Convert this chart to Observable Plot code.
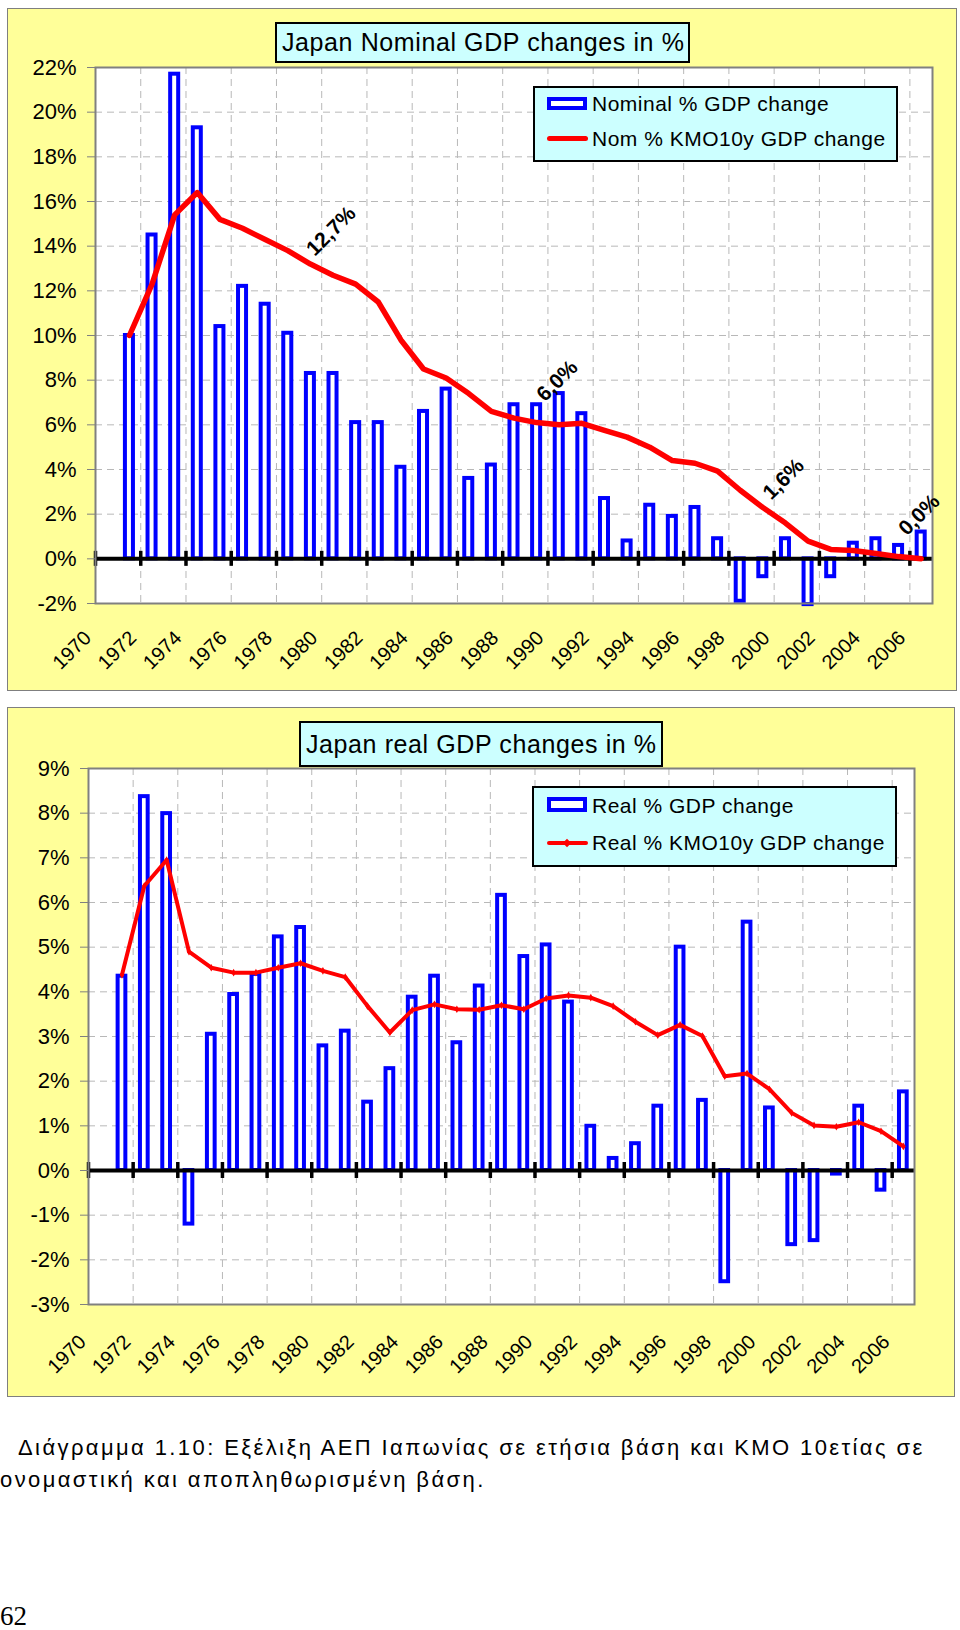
<!DOCTYPE html>
<html>
<head>
<meta charset="utf-8">
<script src="https://cdn.jsdelivr.net/npm/d3@7"></script>
<script src="https://cdn.jsdelivr.net/npm/@observablehq/plot@0.6"></script>
<style>
  body { margin: 0; background: #fff; font-family: "Liberation Sans", Arial, Helvetica, sans-serif; }
  #page { position: relative; width: 960px; height: 1630px; overflow: hidden; background: #fff; }
  .panel { position: absolute; background: #ffff99; border: 1.5px solid #7f7f7f; box-sizing: border-box; }
  .chart { position: absolute; }
  .chart svg { display: block; overflow: visible; }
  .titlebox { position: absolute; background: #ccffff; border: 2px solid #000; box-sizing: border-box;
              font-size: 25px; letter-spacing: 0.6px; display: flex; align-items: center; padding-left: 5px; white-space: nowrap; }
  .legend { position: absolute; background: #ccffff; border: 2px solid #000; box-sizing: border-box; }
  .swrect { position: absolute; box-sizing: border-box; border: 4px solid #0000ff; background: #fff; }
  .swline { position: absolute; background: #ff0000; border-radius: 3px; }
  .swdot { position: absolute; width: 6px; height: 6px; background: #ff0000; transform: rotate(45deg); }
  .legtext { position: absolute; font-size: 21px; letter-spacing: 0.5px; line-height: 24px; white-space: nowrap; }
  .caption { position: absolute; left: 0; top: 1432px; font-size: 22px; line-height: 32px; letter-spacing: 2.4px; white-space: nowrap; }
  .pagenum { position: absolute; left: 0; top: 1603px; font-family: "Liberation Serif", "Times New Roman", serif; font-size: 27px; line-height: 27px; }
</style>
</head>
<body>
<div id="page">
  <div class="panel" style="left:7px;top:8px;width:950px;height:683px;"></div>
  <div class="panel" style="left:7px;top:707px;width:948px;height:690px;"></div>
  <div id="chart1" class="chart" style="left:7px;top:8px;"></div>
  <div id="chart2" class="chart" style="left:7px;top:707px;"></div>

  <div class="titlebox" style="left:275px;top:22px;width:415px;height:41px;">Japan Nominal GDP changes in %</div>
  <div class="legend" style="left:533px;top:86px;width:365px;height:76px;"></div>
  <div class="swrect" style="left:547px;top:97px;width:40px;height:13px;"></div>
  <div class="legtext" style="left:592px;top:92px;">Nominal % GDP change</div>
  <div class="swline" style="left:547px;top:135.5px;width:41px;height:5px;"></div>
  <div class="legtext" style="left:592px;top:127px;">Nom % KMO10y GDP change</div>

  <div class="titlebox" style="left:299px;top:721px;width:364px;height:46px;">Japan real GDP changes in %</div>
  <div class="legend" style="left:532px;top:786px;width:365px;height:81px;"></div>
  <div class="swrect" style="left:547px;top:797px;width:40px;height:15px;"></div>
  <div class="legtext" style="left:592px;top:794px;">Real % GDP change</div>
  <div class="swline" style="left:547px;top:841px;width:41px;height:4px;"></div>
  <div class="swdot" style="left:564px;top:840px;"></div>
  <div class="legtext" style="left:592px;top:831px;">Real % KMO10y GDP change</div>

  <div class="caption"><span style="padding-left:18px;">Διάγραμμα 1.10: Εξέλιξη ΑΕΠ Ιαπωνίας σε ετήσια βάση και ΚΜΟ 10ετίας σε</span><br>ονομαστική και αποπληθωρισμένη βάση.</div>
  <div class="pagenum">62</div>
</div>

<script>
// ---------- data ----------
const years = [1971,1972,1973,1974,1975,1976,1977,1978,1979,1980,1981,1982,1983,1984,1985,1986,1987,1988,1989,1990,1991,1992,1993,1994,1995,1996,1997,1998,1999,2000,2001,2002,2003,2004,2005,2006];

const nominalChange = [10.0,14.5,21.7,19.3,10.4,12.2,11.4,10.1,8.3,8.3,6.1,6.1,4.1,6.6,7.6,3.6,4.2,6.9,6.9,7.4,6.5,2.7,0.8,2.4,1.9,2.3,0.9,-1.9,-0.8,0.9,-2.05,-0.8,0.7,0.9,0.6,1.2];
const nominalKMO10y = [10.0,12.3,15.4,16.4,15.2,14.8,14.3,13.8,13.2,12.7,12.3,11.5,9.8,8.5,8.1,7.4,6.6,6.3,6.1,6.0,6.07,5.75,5.45,5.0,4.4,4.28,3.93,3.07,2.3,1.6,0.79,0.42,0.37,0.24,0.1,0.0];

const realChange = [4.35,8.37,7.99,-1.2,3.05,3.94,4.39,5.23,5.44,2.79,3.12,1.53,2.28,3.88,4.35,2.86,4.13,6.16,4.79,5.05,3.77,0.99,0.27,0.6,1.44,5.0,1.57,-2.49,5.56,1.4,-1.66,-1.57,-0.08,1.44,-0.44,1.76];
const realKMO10y = [4.38,6.37,6.95,4.9,4.54,4.43,4.43,4.54,4.64,4.47,4.33,3.68,3.09,3.59,3.72,3.61,3.6,3.7,3.61,3.85,3.92,3.87,3.68,3.33,3.03,3.26,3.01,2.11,2.17,1.82,1.29,1.01,0.98,1.08,0.88,0.54];

const xLabelYears = [1970,1972,1974,1976,1978,1980,1982,1984,1986,1988,1990,1992,1994,1996,1998,2000,2002,2004,2006];
const nominalYTicks = [-2,0,2,4,6,8,10,12,14,16,18,20,22];
const realYTicks = [-3,-2,-1,0,1,2,3,4,5,6,7,8,9];
const nominalLabelYears = [1980,1990,2000,2006];

// ---------- chart builder ----------
function makeChart(cfg) {
  const data = years.map((y, i) => ({year: y, bar: cfg.bars[i], avg: cfg.line[i]}));
  const boundaries = xLabelYears.map(y => y - 0.5);
  const plotH = cfg.height - cfg.mt - cfg.mb;
  const t = cfg.tickHalf * (cfg.yDomain[1] - cfg.yDomain[0]) / plotH;
  const grid = {stroke: "#b8b8b8", strokeOpacity: 1, strokeDasharray: "7,5", strokeWidth: 1};
  const marks = [
    Plot.frame({fill: "white"}),
    Plot.gridY(cfg.yTicks, grid),
    Plot.gridX(boundaries, grid),
    Plot.rectY(data, {x1: d => d.year - 0.5, x2: d => d.year + 0.5, y1: 0, y2: "bar",
      insetLeft: 7.3, insetRight: 7.3, fill: "white", stroke: "#0000ff", strokeWidth: 4}),
    Plot.ruleY([0], {stroke: "black", strokeWidth: 4}),
    Plot.ruleX(boundaries, {y1: -t, y2: t, stroke: "black", strokeWidth: 3.5}),
    Plot.lineY(data, {x: "year", y: "avg", stroke: "#ff0000", strokeWidth: cfg.lineWidth,
      strokeLinejoin: "round", strokeLinecap: "round"}),
    Plot.frame({stroke: "#808080", strokeWidth: 2}),
    Plot.axisY(cfg.yTicks, {anchor: "left", label: null, tickSize: 8, tickPadding: 11, stroke: "#808080",
      fill: "black", fontSize: 22, tickFormat: d => d + "%"}),
    Plot.axisX(xLabelYears, {anchor: "bottom", label: null, tickSize: 0, tickPadding: cfg.xPad, tickRotate: -45,
      dx: cfg.xDx, fontSize: 20, fill: "black", tickFormat: d => String(d)})
  ];
  if (cfg.dots) {
    marks.push(Plot.dot(data, {x: "year", y: "avg", r: 2.3, fill: "#ff0000", symbol: "diamond"}));
  }
  if (cfg.labelYears) {
    marks.push(Plot.text(data.filter(d => cfg.labelYears.includes(d.year)), {
      x: "year", y: "avg", text: d => d.avg.toFixed(1).replace(".", ",") + "%",
      rotate: -45, dx: -2, dy: -44, fontSize: 21, fontWeight: "bold", fill: "black",
      textAnchor: "middle", lineAnchor: "middle"}));
  }
  return Plot.plot({
    width: cfg.width, height: cfg.height,
    marginTop: cfg.mt, marginRight: cfg.mr, marginBottom: cfg.mb, marginLeft: cfg.ml,
    style: {background: "transparent", fontFamily: "'Liberation Sans', Arial, Helvetica, sans-serif", overflow: "visible"},
    x: {type: "linear", domain: [1969.5, 2006.5]},
    y: {type: "linear", domain: cfg.yDomain},
    marks
  });
}

document.getElementById("chart1").append(makeChart({
  width: 950, height: 683, mt: 59, mr: 25, mb: 88, ml: 88,
  yDomain: [-2, 22], yTicks: nominalYTicks, bars: nominalChange, line: nominalKMO10y,
  lineWidth: 5.5, tickHalf: 7.5, xPad: 31, xDx: -19, labelYears: nominalLabelYears
}));

document.getElementById("chart2").append(makeChart({
  width: 948, height: 690, mt: 61, mr: 41, mb: 93, ml: 81,
  yDomain: [-3, 9], yTicks: realYTicks, bars: realChange, line: realKMO10y,
  lineWidth: 4, tickHalf: 8, xPad: 34, xDx: -17, dots: true
}));
</script>
</body>
</html>
